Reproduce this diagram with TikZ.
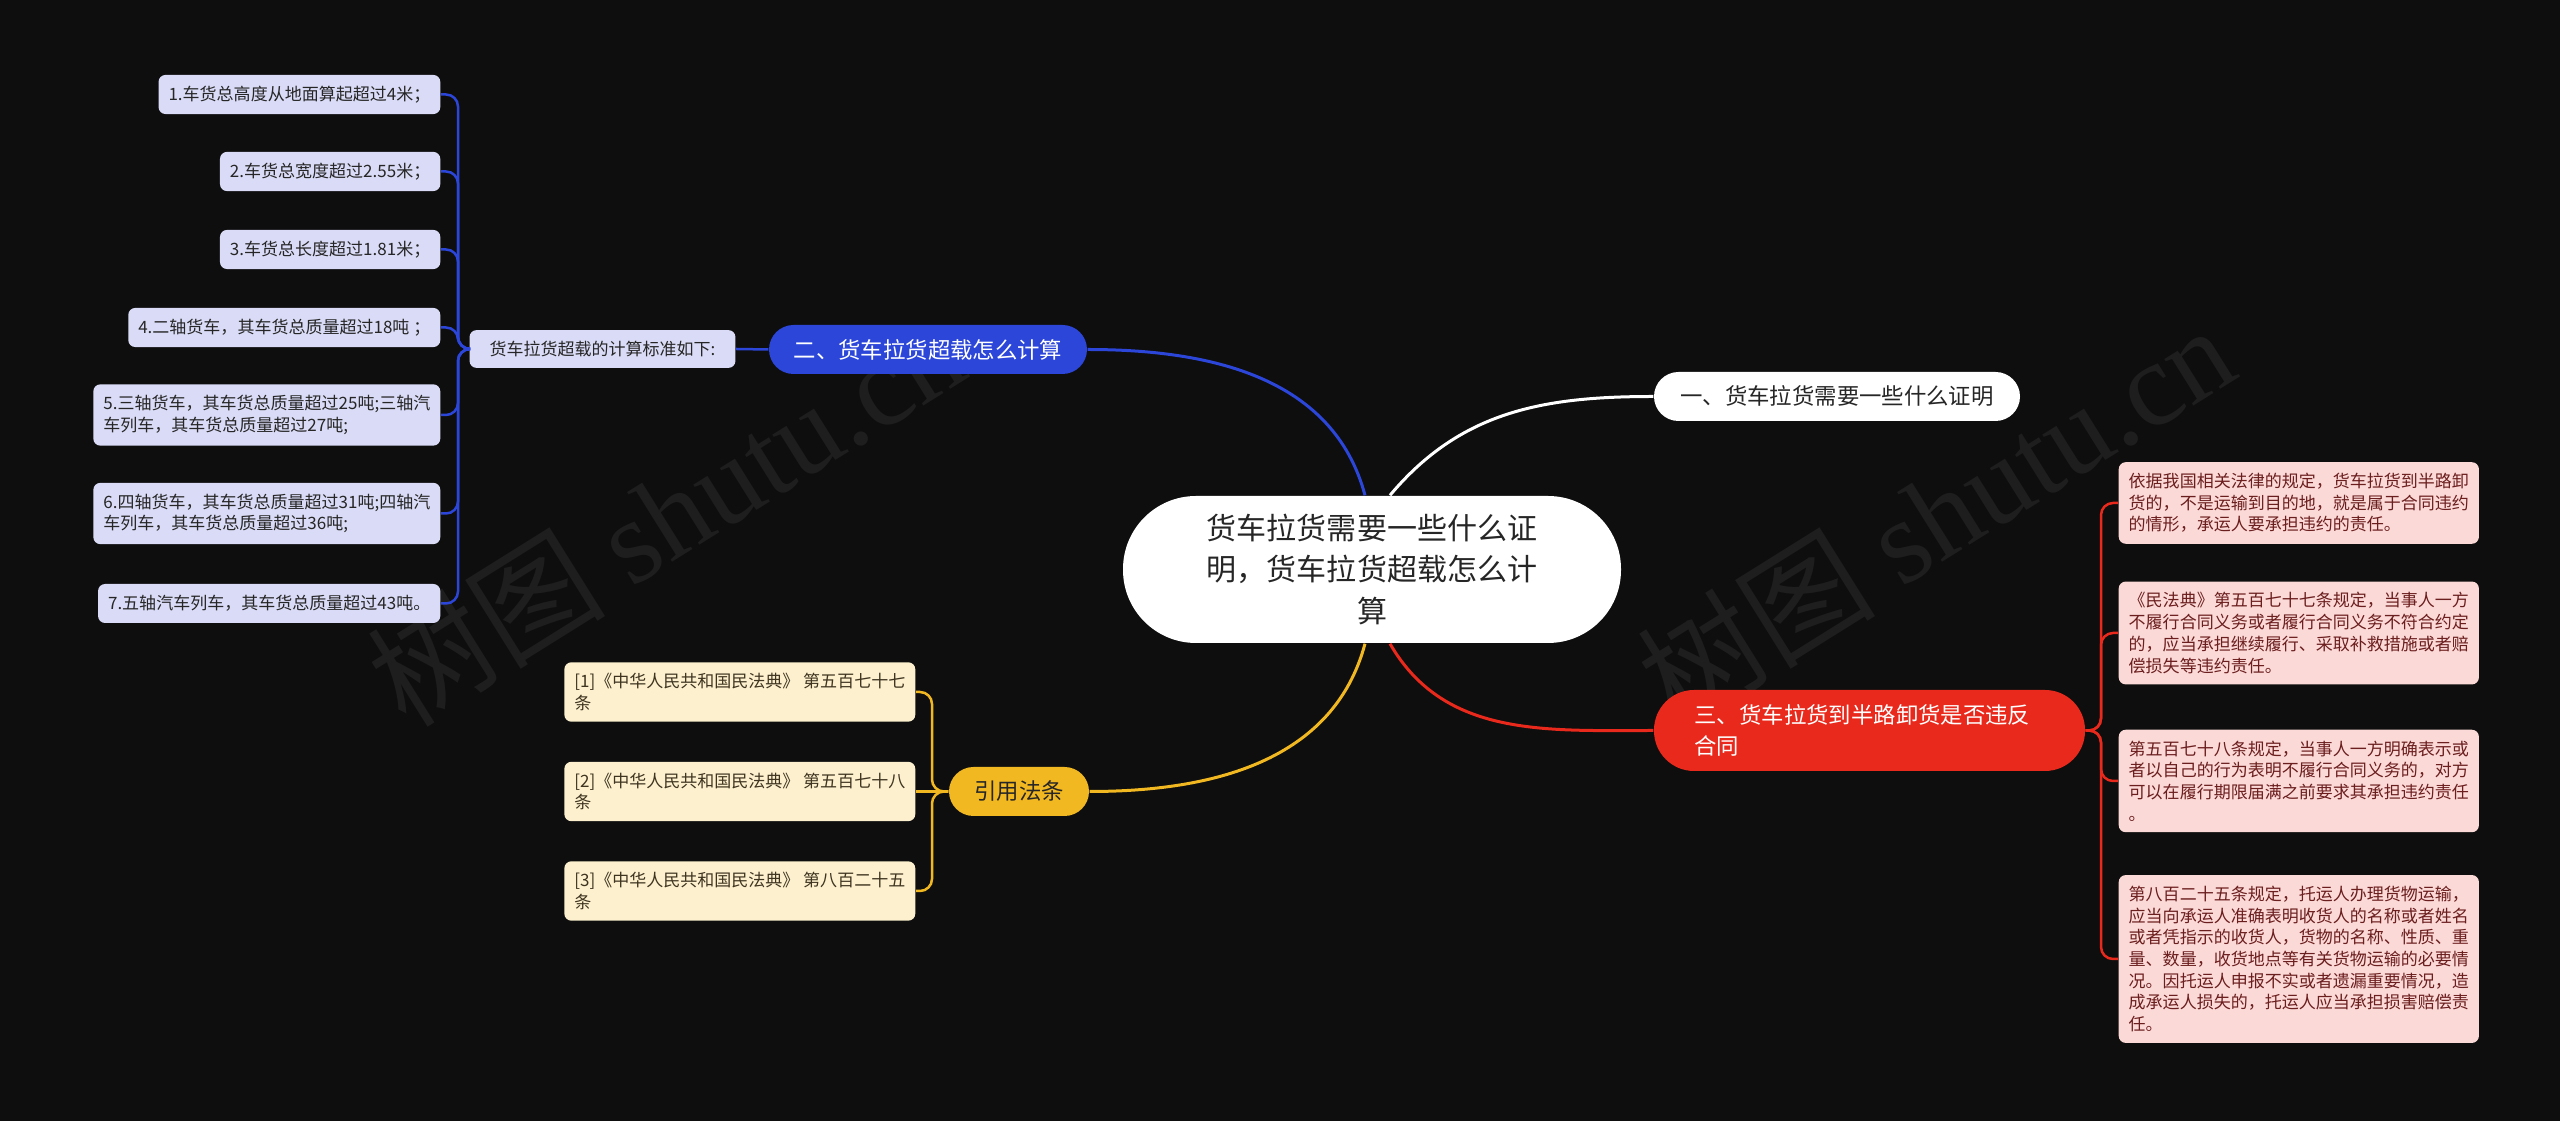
\documentclass[tikz,border=0pt]{standalone}
\usepackage{fontspec}
\setmainfont{Noto Sans CJK SC}
\newfontfamily\wmserif{Liberation Serif}

\definecolor{bgdark}{HTML}{0E0E0E}
\definecolor{wmgray}{HTML}{1E1E1E}
\definecolor{topblue}{HTML}{2B46D8}
\definecolor{topred}{HTML}{E8291C}
\definecolor{topyellow}{HTML}{F2B822}
\definecolor{leafblue}{HTML}{DADCF7}
\definecolor{leafyellow}{HTML}{FCF0CE}
\definecolor{leafred}{HTML}{FBD9D7}
\definecolor{textbrown}{HTML}{3F3420}
\definecolor{textred}{HTML}{6B1E1E}

\begin{document}
\begin{tikzpicture}[
    % Box styles
    rootbox/.style={fill=white, text=black!85, rounded corners=0.73cm, minimum width=4.98cm, minimum height=1.47cm, align=center, font=\fontsize{8.54pt}{11.67pt}\selectfont},
    topicbox/.style={rounded corners=0.245cm, minimum height=0.49cm, inner sep=0pt, font=\fontsize{6.37pt}{8.82pt}\selectfont},
    leafbox/.style={rounded corners=0.07cm, inner xsep=0.10cm, inner ysep=0.11cm, minimum height=0.39cm, align=left, font=\fontsize{4.84pt}{6.17pt}\selectfont},
    calcleaf/.style={leafbox, fill=leafblue, text=black!85},
    lawleaf/.style={leafbox, fill=leafyellow, text=textbrown},
    redleaf/.style={leafbox, fill=leafred, text=textred},
    % Line styles
    link/.style={line width=0.03cm},
    branch/.style={line width=0.025cm, rounded corners=0.12cm},
    wmark/.style={text=wmgray, font=\fontsize{34pt}{34pt}\selectfont, rotate=32}
]

% 1. Background
\fill[bgdark] (0,0) rectangle (25.6,-11.21);
\useasboundingbox (0,0) rectangle (25.6,-11.21);

% 2. Watermarks
\node[wmark] (wm1) at (6.65,-5.14) {树图 {\wmserif shutu.cn}};
\node[wmark] (wm2) at (19.35,-5.14) {树图 {\wmserif shutu.cn}};

% 3. Root and main topics
\node[rootbox] (root) at (13.72,-5.695) {货车拉货需要一些什么证\\明，货车拉货超载怎么计\\算};

\node[topicbox, fill=white, text=black!85, minimum width=3.66cm] (proof) at (18.37,-3.965) {一、货车拉货需要一些什么证明};
\node[topicbox, fill=topblue, text=white, minimum width=3.18cm] (overload) at (9.28,-3.495) {二、货车拉货超载怎么计算};
\node[topicbox, fill=topred, text=white, minimum width=4.31cm, minimum height=0.81cm, rounded corners=0.4cm, text width=3.50cm, align=left] (unload) at (18.695,-7.305) {三、货车拉货到半路卸货是否违反\\合同};
\node[topicbox, fill=topyellow, text=black!85, minimum width=1.40cm] (law) at (10.19,-7.915) {引用法条};

% 4. Overload branch
\node[calcleaf, minimum height=0.36cm, inner xsep=0.2cm] (calc) at (6.025,-3.49) {货车拉货超载的计算标准如下:};

\node[calcleaf, anchor=east] (ov1) at (4.41,-0.945) {1.车货总高度从地面算起超过4米；};
\node[calcleaf, anchor=east] (ov2) at (4.41,-1.715) {2.车货总宽度超过2.55米；};
\node[calcleaf, anchor=east] (ov3) at (4.41,-2.495) {3.车货总长度超过1.81米；};
\node[calcleaf, anchor=east] (ov4) at (4.41,-3.275) {4.二轴货车，其车货总质量超过18吨 ；};
\node[calcleaf, anchor=east] (ov5) at (4.41,-4.15) {5.三轴货车，其车货总质量超过25吨;三轴汽\\车列车，其车货总质量超过27吨;};
\node[calcleaf, anchor=east] (ov6) at (4.41,-5.135) {6.四轴货车，其车货总质量超过31吨;四轴汽\\车列车，其车货总质量超过36吨;};
\node[calcleaf, anchor=east] (ov7) at (4.41,-6.035) {7.五轴汽车列车，其车货总质量超过43吨。};

% 5. Law branch
\node[lawleaf, anchor=east] (law1) at (9.16,-6.92) {[1]《中华人民共和国民法典》 第五百七十七\\条};
\node[lawleaf, anchor=east] (law2) at (9.16,-7.915) {[2]《中华人民共和国民法典》 第五百七十八\\条};
\node[lawleaf, anchor=east] (law3) at (9.16,-8.91) {[3]《中华人民共和国民法典》 第八百二十五\\条};

% 6. Unload branch
\node[redleaf, anchor=west] (un1) at (21.18,-5.03) {依据我国相关法律的规定，货车拉货到半路卸\\货的，不是运输到目的地，就是属于合同违约\\的情形，承运人要承担违约的责任。};
\node[redleaf, anchor=west] (un2) at (21.18,-6.33) {《民法典》第五百七十七条规定，当事人一方\\不履行合同义务或者履行合同义务不符合约定\\的，应当承担继续履行、采取补救措施或者赔\\偿损失等违约责任。};
\node[redleaf, anchor=west] (un3) at (21.18,-7.81) {第五百七十八条规定，当事人一方明确表示或\\者以自己的行为表明不履行合同义务的，对方\\可以在履行期限届满之前要求其承担违约责任\\。};
\node[redleaf, anchor=west] (un4) at (21.18,-9.59) {第八百二十五条规定，托运人办理货物运输，\\应当向承运人准确表明收货人的名称或者姓名\\或者凭指示的收货人，货物的名称、性质、重\\量、数量，收货地点等有关货物运输的必要情\\况。因托运人申报不实或者遗漏重要情况，造\\成承运人损失的，托运人应当承担损害赔偿责\\任。};

% 7. Bracket columns
\coordinate (ovbar) at (4.58,0);
\coordinate (lawbar) at (9.32,0);
\coordinate (unbar) at (21.01,0);

% 8. Curves from the root
\draw[link, draw=white] ([xshift=0.18cm]root.north) to[out=50, in=180] (proof.west);
\draw[link, draw=topblue] ([xshift=-0.07cm]root.north) to[out=105, in=0] (overload.east);
\draw[link, draw=topred] ([xshift=0.18cm]root.south) to[out=-60, in=180] (unload.west);
\draw[link, draw=topyellow] ([xshift=-0.07cm]root.south) to[out=-105, in=0] (law.east);

% 9. Branch lines
\draw[branch, draw=topblue] (overload.west) -- (calc.east);
\draw[branch, draw=topblue] (calc.west) -- (calc.west -| ovbar) |- (ov1.east);
\draw[branch, draw=topblue] (calc.west) -- (calc.west -| ovbar) |- (ov2.east);
\draw[branch, draw=topblue] (calc.west) -- (calc.west -| ovbar) |- (ov3.east);
\draw[branch, draw=topblue] (calc.west) -- (calc.west -| ovbar) |- (ov4.east);
\draw[branch, draw=topblue] (calc.west) -- (calc.west -| ovbar) |- (ov5.east);
\draw[branch, draw=topblue] (calc.west) -- (calc.west -| ovbar) |- (ov6.east);
\draw[branch, draw=topblue] (calc.west) -- (calc.west -| ovbar) |- (ov7.east);

\draw[branch, draw=topyellow] (law.west) -- (lawbar |- law.west) |- (law1.east);
\draw[branch, draw=topyellow] (law.west) -- (law2.east);
\draw[branch, draw=topyellow] (law.west) -- (lawbar |- law.west) |- (law3.east);

\draw[branch, draw=topred] (unload.east) -- (unbar |- unload.east) |- (un1.west);
\draw[branch, draw=topred] (unload.east) -- (unbar |- unload.east) |- (un2.west);
\draw[branch, draw=topred] (unload.east) -- (unbar |- unload.east) |- (un3.west);
\draw[branch, draw=topred] (unload.east) -- (unbar |- unload.east) |- (un4.west);

\end{tikzpicture}
\end{document}
